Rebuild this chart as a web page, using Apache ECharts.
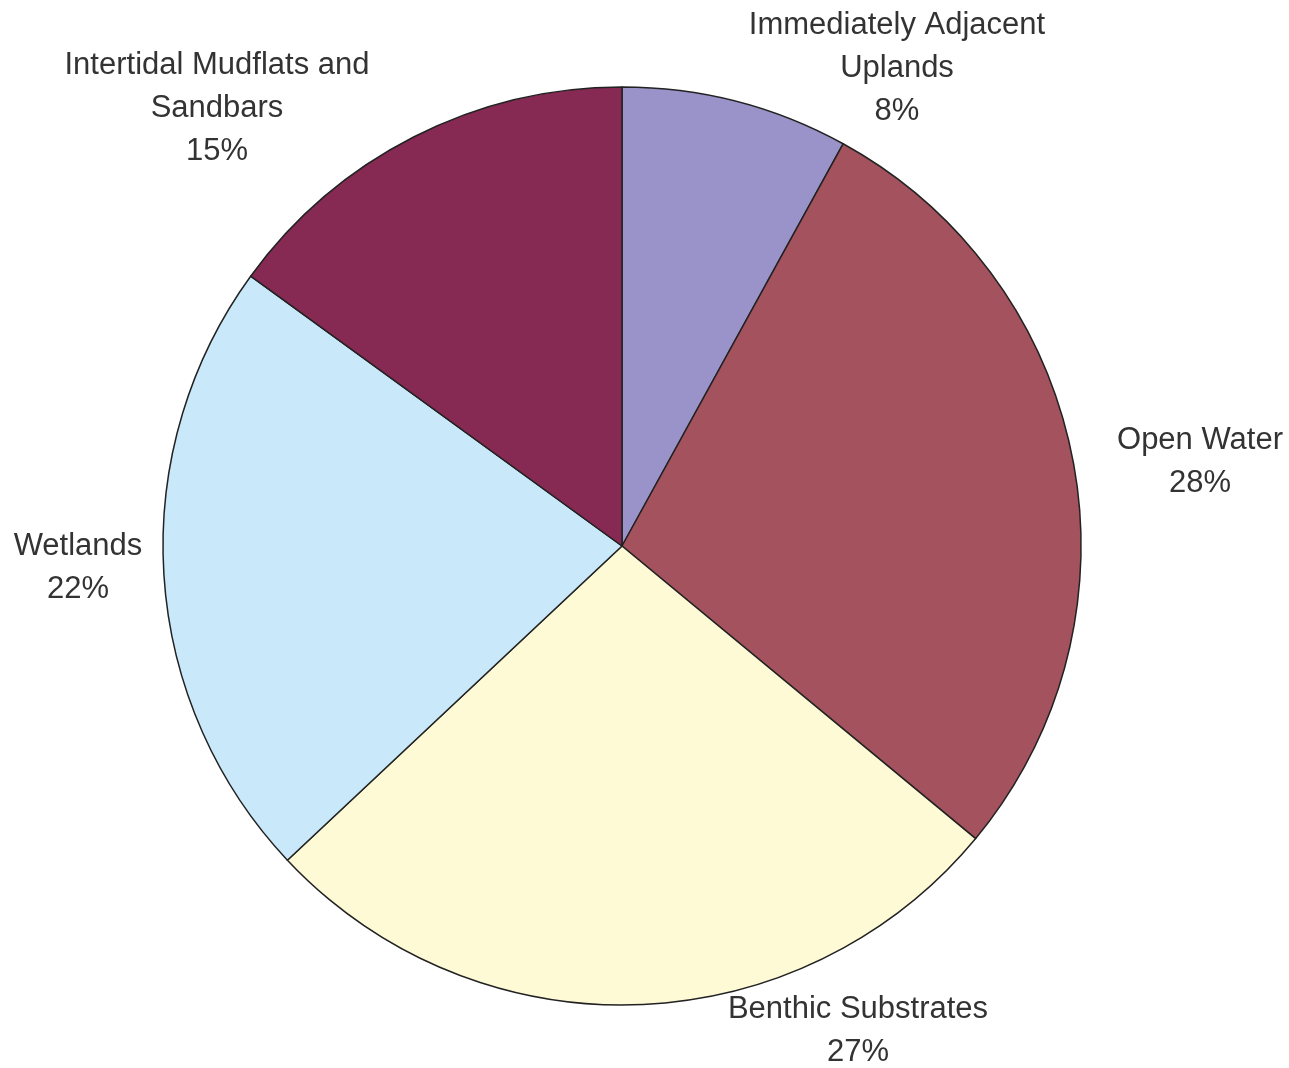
<!DOCTYPE html>
<html>
<head>
<meta charset="utf-8">
<script src="https://cdn.jsdelivr.net/npm/echarts@6/dist/echarts.min.js"></script>
<style>html,body{margin:0;padding:0;background:#fff}#c{width:1289px;height:1068px}</style>
</head>
<body>
<div id="c"></div>
<script>
const categories = ['Immediately Adjacent\nUplands', 'Open Water', 'Benthic Substrates', 'Wetlands', 'Intertidal Mudflats and\nSandbars'];
const values = [8, 28, 27, 22, 15];
const colors = ['#9A93C9', '#A4525E', '#FFFAD6', '#C9E9FA', '#862953'];
const labelPos = [[897, 68], [1200, 462], [858, 1031], [78, 568], [217, 108]];

const chart = echarts.init(document.getElementById('c'));
chart.setOption({
  animation: false,
  backgroundColor: '#ffffff',
  series: [{
    type: 'pie',
    center: [622, 546],
    radius: 459,
    startAngle: 90,
    clockwise: true,
    data: categories.map((n, i) => ({ name: n, value: values[i], itemStyle: { color: colors[i] } })),
    itemStyle: { borderColor: '#222', borderWidth: 1.5 },
    label: {
      show: true,
      position: 'outside',
      formatter: p => p.name + '\n' + p.value + '%',
      fontFamily: 'Liberation Sans, Arial, sans-serif',
      fontSize: 31,
      lineHeight: 43,
      color: '#333',
      align: 'center',
      overflow: 'none',
      width: 600
    },
    labelLine: { show: false },
    labelLayout: p => ({ x: labelPos[p.dataIndex][0], y: labelPos[p.dataIndex][1], align: 'center', verticalAlign: 'middle', width: 600 })
  }]
});
</script>
</body>
</html>
